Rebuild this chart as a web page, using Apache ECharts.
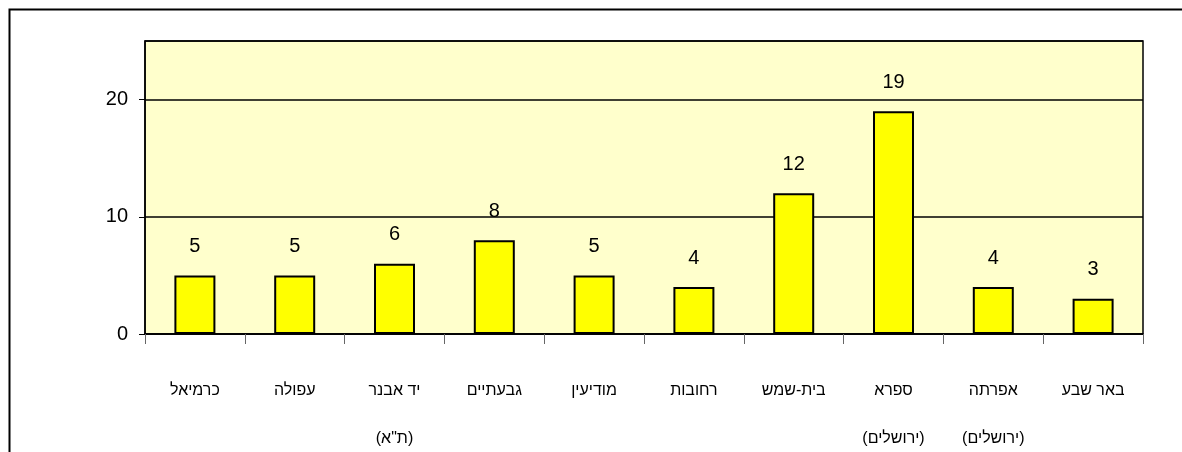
<!DOCTYPE html>
<html>
<head>
<meta charset="utf-8">
<script src="https://cdn.jsdelivr.net/npm/echarts@6/dist/echarts.min.js"></script>
<style>
  html, body { margin: 0; padding: 0; background: #fff; }
  #chart { width: 1182px; height: 452px; }
</style>
</head>
<body>
<div id="chart"></div>
<script>
// ערים (מימין לשמאל בגרף המקורי מוצג משמאל לימין)
const cities = ['כרמיאל', 'עפולה', 'יד אבנר\n(ת"א)', 'גבעתיים', 'מודיעין', 'רחובות', 'בית-שמש', 'ספרא\n(ירושלים)', 'אפרתה\n(ירושלים)', 'באר שבע']
const counts = [5, 5, 6, 8, 5, 4, 12, 19, 4, 3]
const yTicks = { min: 0, max: 25, interval: 10 }

const font = '"Liberation Sans", Arial, "DejaVu Sans", sans-serif'

const chart = echarts.init(document.getElementById('chart'))
chart.setOption({
    animation: false,
    // מסגרת חיצונית
    graphic: [{
        type: 'rect',
        shape: { x: 9.5, y: 9.5, width: 1400, height: 800 },
        style: { fill: 'none', stroke: '#000', lineWidth: 2 },
        silent: true
    }],
    grid: {
        left: 145,
        right: 39,
        top: 41,
        bottom: 118,
        outerBoundsMode: 'none',
        containLabel: false,
        show: true,
        backgroundColor: '#FFFFCC',
        borderColor: '#000',
        borderWidth: 1.5
    },
    xAxis: {
        type: 'category',
        data: cities,
        axisLine: { lineStyle: { color: '#000', width: 1.5 } },
        axisTick: { show: true, length: 10, lineStyle: { color: '#666' } },
        axisLabel: {
            interval: 0,
            margin: 33,
            color: '#000',
            fontFamily: font,
            fontSize: 16,
            lineHeight: 48
        }
    },
    yAxis: {
        type: 'value',
        min: yTicks.min,
        max: yTicks.max,
        interval: yTicks.interval,
        axisLine: { show: true, lineStyle: { color: '#000', width: 1.5 } },
        axisTick: { show: true, length: 6, lineStyle: { color: '#000' } },
        axisLabel: {
            showMaxLabel: false,
            margin: 17,
            color: '#000',
            fontFamily: font,
            fontSize: 20
        },
        splitLine: { lineStyle: { color: '#000', width: 1.5 } }
    },
    series: [{
        type: 'bar',
        data: counts,
        barWidth: 41,
        itemStyle: { color: '#FFFF00', borderColor: '#000', borderWidth: 2 },
        label: {
            show: true,
            position: 'top',
            distance: 19,
            color: '#000',
            fontFamily: font,
            fontSize: 20
        }
    }]
})
</script>
</body>
</html>
